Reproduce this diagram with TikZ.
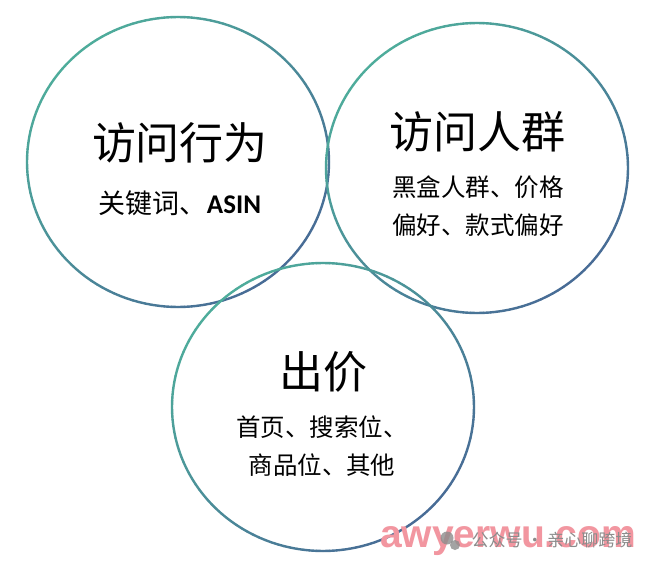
\documentclass[tikz,border=0pt]{standalone}
\usepackage{fontspec}
\newfontfamily\cjk{Noto Sans CJK SC}
\newfontfamily\latinb{Carlito}
\newfontfamily\wmfont{Liberation Sans}
\definecolor{tealc}{RGB}{78,172,155}
\definecolor{bluec}{RGB}{72,108,150}
\definecolor{wmpink}{RGB}{242,150,160}
\definecolor{wmgray}{RGB}{140,140,140}
\tikzset{
  ringseg/.style={line width=2.4pt, line cap=round},
  titletext/.style={font=\cjk\fontsize{44}{50}\selectfont, text=black, inner sep=0pt},
  subtext/.style={font=\cjk\fontsize{24.5}{37.5}\selectfont, text=black, align=center, inner sep=0pt},
}
\newcommand{\gradring}[4]{% cx, cy, rx, ry
  \foreach \a in {0,2.5,...,357.5}{
    \pgfmathsetmacro\tmix{50+35.36*(cos(\a)+sin(\a))}
    \draw[ringseg, color=bluec!\tmix!tealc]
      ({#1+#3*cos(\a)},{#2+#4*sin(\a)}) -- ({#1+#3*cos(\a+2.5)},{#2+#4*sin(\a+2.5)});
  }
}
\begin{document}
\begin{tikzpicture}[x=1pt,y=-1pt]
\useasboundingbox[fill=white] (0,0) rectangle (657,565);
% rings
\gradring{178}{162}{151}{145}
\gradring{477}{168}{151}{145}
\gradring{323}{407}{151}{144}
% texts
\node[titletext] (t1) at (180,143) {访问行为};
\node[subtext, font=\cjk\fontsize{27}{30}\selectfont] (s1) at (180,203) {关键词、{\latinb\bfseries ASIN}};
\node[titletext] (t2) at (477,132) {访问人群};
\node[subtext] (s2) at (478,206) {黑盒人群、价格\\偏好、款式偏好};
\node[titletext] (t3) at (323,372) {出价};
\node[subtext] (s3) at (322,446) {首页、搜索位、\\商品位、其他};
% watermark
\node[anchor=base west, inner sep=0pt, text=wmpink, font=\wmfont\bfseries\fontsize{39}{39}\selectfont] (wm1) at (380,547) {awyerwu.com};
\fill[wmgray, opacity=0.8] (447,538) circle (6.5);
\fill[wmgray, opacity=0.8] (455,545) circle (5);
\node[inner sep=0pt, text=wmgray, font=\cjk\fontsize{17}{17}\selectfont] (wm2) at (552,540) {公众号 · 亲心聊跨境};
\end{tikzpicture}
\end{document}
